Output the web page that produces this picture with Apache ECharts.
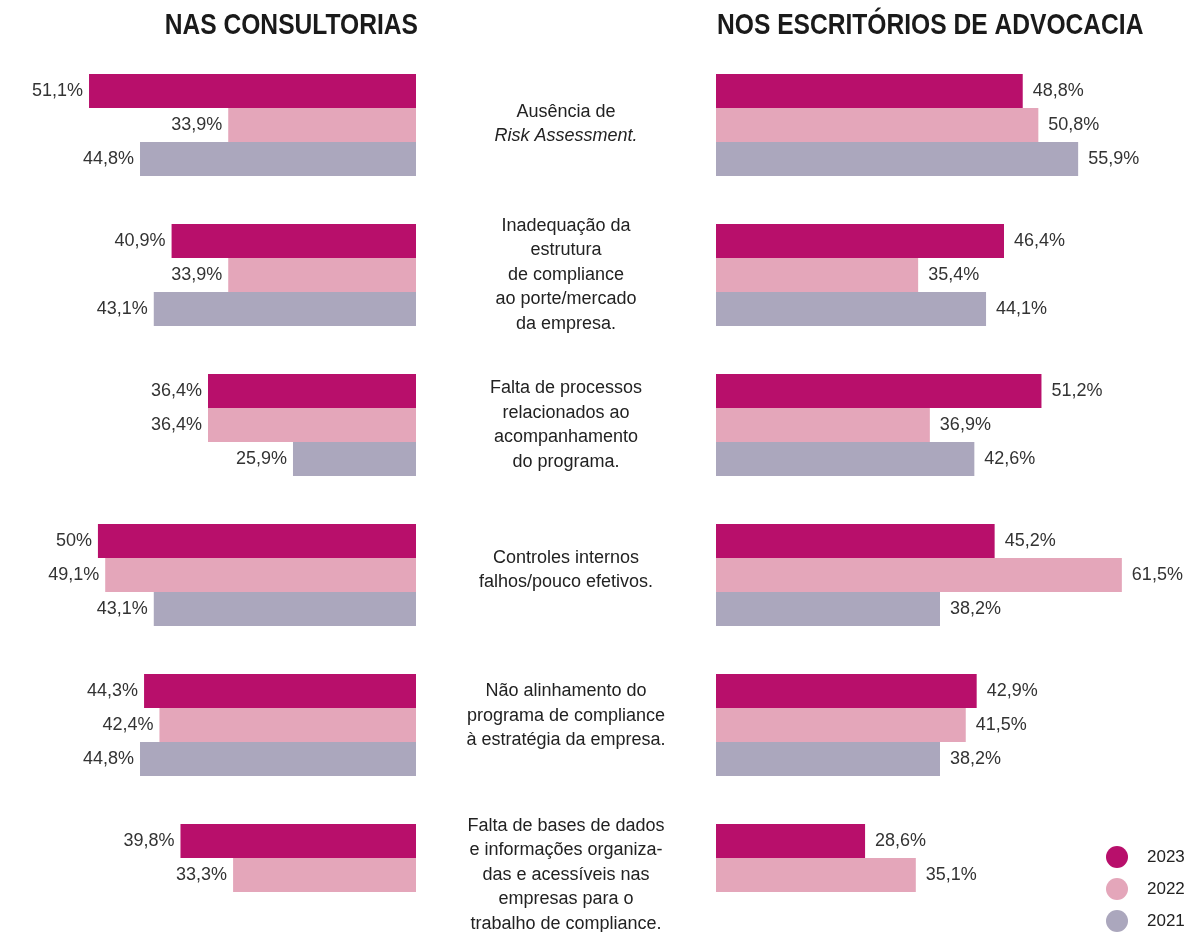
<!DOCTYPE html>
<html>
<head>
<meta charset="utf-8">
<script src="https://cdn.jsdelivr.net/npm/echarts@6/dist/echarts.min.js"></script>
<style>
  html, body { margin: 0; padding: 0; background: #fff; }
  #chart { width: 1188px; height: 932px; }
</style>
</head>
<body>
<div id="chart"></div>
<script>
// categorias (rótulos centrais)
var categories = [
  "Ausência de\n{i|Risk Assessment.}",
  "Inadequação da\nestrutura\nde compliance\nao porte/mercado\nda empresa.",
  "Falta de processos\nrelacionados ao\nacompanhamento\ndo programa.",
  "Controles internos\nfalhos/pouco efetivos.",
  "Não alinhamento do\nprograma de compliance\nà estratégia da empresa.",
  "Falta de bases de dados\ne informações organiza-\ndas e acessíveis nas\nempresas para o\ntrabalho de compliance."
];
var years = ["2023", "2022", "2021"];

// nas consultorias
var consult2023 = [51.1, 40.9, 36.4, 50, 44.3, 39.8];
var consult2022 = [33.9, 33.9, 36.4, 49.1, 42.4, 33.3];
var consult2021 = [44.8, 43.1, 25.9, 43.1, 44.8, null];

// nos escritórios de advocacia
var escrit2023 = [48.8, 46.4, 51.2, 45.2, 42.9, 28.6];
var escrit2022 = [50.8, 35.4, 36.9, 61.5, 41.5, 35.1];
var escrit2021 = [55.9, 44.1, 42.6, 38.2, 38.2, null];

var colors = ["#b80f6b", "#e4a6ba", "#aba7bd"];
var font = "'Liberation Sans', Arial, Helvetica, sans-serif";
// pequeno ajuste vertical dos rótulos centrais (px para cima)
var labelLift = [1, 0, 0, 5, 9, 0];

function pct(p) {
  return String(p.value).replace(".", ",") + "%";
}

function barSeries(name, data, axisIdx, color, side) {
  return {
    name: name,
    type: "bar",
    xAxisIndex: axisIdx,
    yAxisIndex: axisIdx,
    data: data,
    barWidth: 34,
    barGap: "0%",
    clip: true,
    itemStyle: { color: color },
    label: {
      show: true,
      position: side,
      distance: side === "left" ? 6 : 10,
      formatter: pct,
      color: "#333",
      fontSize: 18,
      fontFamily: font
    },
    emphasis: { disabled: true },
    silent: true
  };
}

// títulos em negrito condensado (escala horizontal)
function heading(text, x, align) {
  return {
    type: "text",
    x: x,
    y: 26,
    scaleX: 0.82,
    silent: true,
    style: {
      text: text,
      textAlign: align,
      textVerticalAlign: "middle",
      fill: "#1a1a1a",
      font: "bold 30px " + font
    }
  };
}

var chart = echarts.init(document.getElementById("chart"));
var option = {
  animation: false,
  color: colors,
  graphic: [
    heading("NAS CONSULTORIAS", 418, "right"),
    heading("NOS ESCRITÓRIOS DE ADVOCACIA", 717, "left")
  ],
  legend: {
    data: years,
    orient: "vertical",
    left: 1106,
    top: 846,
    height: 120,
    padding: 0,
    icon: "circle",
    itemWidth: 22,
    itemHeight: 22,
    itemGap: 10,
    textStyle: { fontSize: 17, color: "#222", fontFamily: font, padding: [0, 0, 0, 14] },
    selectedMode: false
  },
  grid: [
    { left: 0, width: 416, top: 50, bottom: -18, outerBoundsMode: "none" },
    { left: 716, width: 416, top: 50, bottom: -18, outerBoundsMode: "none" }
  ],
  xAxis: [
    { gridIndex: 0, type: "value", min: 10.7, max: 62.1, inverse: true, show: false },
    { gridIndex: 1, type: "value", min: 9.5, max: 62.8, show: false }
  ],
  yAxis: [
    {
      gridIndex: 0,
      type: "category",
      data: categories.map(function (c, i) {
        return { value: c, textStyle: { align: "center", padding: [0, 0, 2 * labelLift[i], 0] } };
      }),
      inverse: true,
      position: "right",
      axisLine: { show: false },
      axisTick: { show: false },
      axisLabel: {
        margin: 150,
        align: "center",
        color: "#222",
        fontSize: 18,
        lineHeight: 24.5,
        fontFamily: font,
        formatter: function (v) { return v; },
        rich: {
          i: { fontStyle: "italic", fontSize: 18, lineHeight: 24.5, color: "#222", fontFamily: font }
        }
      }
    },
    {
      gridIndex: 1,
      type: "category",
      data: categories,
      inverse: true,
      show: false
    }
  ],
  series: [
    barSeries("2023", consult2023, 0, colors[0], "left"),
    barSeries("2022", consult2022, 0, colors[1], "left"),
    barSeries("2021", consult2021, 0, colors[2], "left"),
    barSeries("2023", escrit2023, 1, colors[0], "right"),
    barSeries("2022", escrit2022, 1, colors[1], "right"),
    barSeries("2021", escrit2021, 1, colors[2], "right")
  ]
};
chart.setOption(option);
</script>
</body>
</html>
